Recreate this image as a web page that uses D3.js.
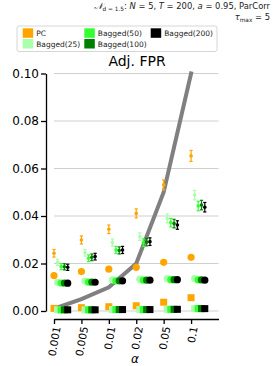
<!DOCTYPE html>
<html>
<head>
<meta charset="utf-8">
<script src="https://cdn.jsdelivr.net/npm/d3@7"></script>
<style>
  body { margin: 0; background: #fff; }
  svg { font-family: "DejaVu Sans", sans-serif; }
</style>
</head>
<body>
<svg id="chart" width="274" height="366"></svg>
<script>
// data
const alphas = ['0.001', '0.005', '0.01', '0.02', '0.05', '0.1'];
const alphaVals = [0.001, 0.005, 0.01, 0.02, 0.05, 0.1];
const methods = ['PC', 'Bagged(25)', 'Bagged(50)', 'Bagged(100)', 'Bagged(200)'];
const colors = ['#ffa500', '#aaffaa', '#33ff33', '#007f00', '#000000'];
const yTicks = [0, 0.02, 0.04, 0.06, 0.08, 0.10];

// upper group (mean with error bars)
const barPC   = [0.0243, 0.0299, 0.0344, 0.0411, 0.0531, 0.0653];
const barB25  = [0.0205, 0.0245, 0.0288, 0.0313, 0.0390, 0.0488];
const barB50  = [0.0187, 0.0222, 0.0257, 0.0288, 0.0372, 0.0442];
const barB100 = [0.0186, 0.0226, 0.0255, 0.0290, 0.0368, 0.0446];
const barB200 = [0.0184, 0.0229, 0.0257, 0.0292, 0.0362, 0.0437];
const errPC   = [0.0016, 0.0017, 0.0018, 0.0019, 0.0021, 0.0023];
const errBag  = [0.0013, 0.0014, 0.0015, 0.0016, 0.0018, 0.0020];

// middle group (circles)
const circPC   = [0.0149, 0.0166, 0.0176, 0.0184, 0.0205, 0.0226];
const circB25  = [0.0121, 0.0126, 0.0131, 0.0134, 0.0136, 0.0136];
const circB50  = [0.0118, 0.0122, 0.0127, 0.0130, 0.0132, 0.0131];
const circB100 = [0.0118, 0.0122, 0.0127, 0.0130, 0.0132, 0.0131];
const circB200 = [0.0117, 0.0121, 0.0127, 0.0130, 0.0132, 0.0130];

// lower group (squares)
const sqPC  = [0.0011, 0.0014, 0.0018, 0.0022, 0.0037, 0.0056];
const sqBag = [0.0005, 0.0005, 0.0006, 0.0006, 0.0007, 0.0010];

const barSeries = [barPC, barB25, barB50, barB100, barB200];
const errSeries = [errPC, errBag, errBag, errBag, errBag];
const circSeries = [circPC, circB25, circB50, circB100, circB200];
const sqSeries = [sqPC, sqBag, sqBag, sqBag, sqBag];
const offsets = [0, 0.13, 0.26, 0.38, 0.5];

const svg = d3.select('#chart');

const x = d3.scaleLinear().domain([0, 6]).range([54, 218.5]);
const y = d3.scaleLinear().domain([0, 0.1]).range([311, 73.5]);

// grid
svg.append('g')
    .selectAll('line')
    .data(yTicks)
    .enter()
    .append('line')
    .attr('x1', x(0)).attr('x2', x(6))
    .attr('y1', d => y(d)).attr('y2', d => y(d))
    .attr('stroke', '#cfcfcf')
    .attr('stroke-width', 1);

// y axis
const yAxis = svg.append('g')
    .attr('transform', 'translate(46,0)')
    .call(d3.axisLeft(y).tickValues(yTicks).tickFormat(d3.format('.2f')).tickSize(5).tickSizeOuter(0).tickPadding(2));
yAxis.select('.domain').attr('stroke-width', 1.3);
yAxis.selectAll('.tick line').attr('stroke-width', 1.3);
yAxis.selectAll('.tick text').attr('font-size', 12).attr('fill', '#000')
    .attr('font-family', '"DejaVu Sans", sans-serif');

// x axis
const xAxis = svg.append('g')
    .attr('transform', 'translate(0,319)')
    .call(d3.axisBottom(x).tickValues(d3.range(alphas.length)).tickFormat(i => alphas[i]).tickSize(5).tickSizeOuter(0));
xAxis.select('.domain').attr('stroke-width', 1.3);
xAxis.selectAll('.tick line').attr('stroke-width', 1.3);
xAxis.selectAll('.tick text')
    .attr('font-size', 10.5).attr('fill', '#000')
    .attr('font-family', '"DejaVu Sans", sans-serif')
    .attr('text-anchor', 'end')
    .attr('y', 0).attr('dy', '0.35em')
    .attr('transform', 'translate(2.5,7.5) rotate(-80)');

svg.append('text')
    .attr('x', 135).attr('y', 363)
    .attr('text-anchor', 'middle')
    .attr('font-size', 12)
    .attr('font-style', 'italic')
    .text('α');

// alpha reference line
svg.append('path')
    .datum(alphaVals)
    .attr('d', d3.line().x((d, i) => x(i)).y(d => y(d)))
    .attr('fill', 'none')
    .attr('stroke', '#808080')
    .attr('stroke-width', 4)
    .attr('stroke-linecap', 'square');

// squares
sqSeries.forEach((s, k) => {
    svg.append('g').selectAll('rect')
        .data(s)
        .enter()
        .append('rect')
        .attr('x', (d, i) => x(i + offsets[k]) - 3.5)
        .attr('y', d => y(d) - 3.5)
        .attr('width', 7).attr('height', 7)
        .attr('fill', colors[k]);
});

// circles
circSeries.forEach((s, k) => {
    svg.append('g').selectAll('circle')
        .data(s)
        .enter()
        .append('circle')
        .attr('cx', (d, i) => x(i + offsets[k]))
        .attr('cy', d => y(d))
        .attr('r', 3.6)
        .attr('fill', colors[k]);
});

// error bar markers
barSeries.forEach((s, k) => {
    const g = svg.append('g')
        .attr('stroke', colors[k])
        .attr('fill', colors[k])
        .attr('stroke-width', 1.2);
    const pts = g.selectAll('g')
        .data(s)
        .enter()
        .append('g')
        .attr('transform', (d, i) => `translate(${x(i + offsets[k])},0)`);
    pts.append('line')
        .attr('y1', (d, i) => y(d - errSeries[k][i]))
        .attr('y2', (d, i) => y(d + errSeries[k][i]));
    pts.append('line')
        .attr('x1', -1.6).attr('x2', 1.6)
        .attr('y1', (d, i) => y(d - errSeries[k][i]))
        .attr('y2', (d, i) => y(d - errSeries[k][i]));
    pts.append('line')
        .attr('x1', -1.6).attr('x2', 1.6)
        .attr('y1', (d, i) => y(d + errSeries[k][i]))
        .attr('y2', (d, i) => y(d + errSeries[k][i]));
    pts.append('circle')
        .attr('cy', d => y(d))
        .attr('r', 1.8)
        .attr('stroke', 'none');
});

// title
svg.append('text')
    .attr('x', 137).attr('y', 66)
    .attr('text-anchor', 'middle')
    .attr('font-size', 14)
    .text('Adj. FPR');

// suptitle
const sup = svg.append('text')
    .attr('x', 270).attr('y', 9)
    .attr('text-anchor', 'end')
    .attr('font-size', 8.4)
    .attr('fill', '#222');
sup.append('tspan').attr('font-family', '"DejaVu Serif", serif').attr('font-style', 'italic').attr('font-size', 9).text('𝒩');
sup.append('tspan').attr('font-size', 5.8).attr('dy', 2).text('d = 1.5');
sup.append('tspan').attr('dy', -2).text(': ');
sup.append('tspan').attr('font-style', 'italic').text('N');
sup.append('tspan').text(' = 5, ');
sup.append('tspan').attr('font-style', 'italic').text('T');
sup.append('tspan').text(' = 200, ');
sup.append('tspan').attr('font-style', 'italic').text('a');
sup.append('tspan').text(' = 0.95, ParCorr');

const sup2 = svg.append('text')
    .attr('x', 270).attr('y', 20)
    .attr('text-anchor', 'end')
    .attr('font-size', 8.4)
    .attr('fill', '#222');
sup2.append('tspan').attr('font-style', 'italic').text('τ');
sup2.append('tspan').attr('font-size', 5.8).attr('dy', 2).text('max');
sup2.append('tspan').attr('dy', -2).text(' = 5');

// legend
const legend = svg.append('g');
legend.append('rect')
    .attr('x', 17).attr('y', 26)
    .attr('width', 200).attr('height', 25.5)
    .attr('rx', 2)
    .attr('fill', '#fff')
    .attr('fill-opacity', 0.8)
    .attr('stroke', '#d6d6d6')
    .attr('stroke-width', 1);

const legCols = [22.7, 84.3, 150.7];
const legRows = [28.3, 39];
const legItems = legend.selectAll('g.item')
    .data(methods)
    .enter()
    .append('g')
    .attr('class', 'item')
    .attr('transform', (d, i) => {
        const col = [0, 0, 1, 1, 2][i];
        const row = [0, 1, 0, 1, 0][i];
        return `translate(${legCols[col]},${legRows[row]})`;
    });
legItems.append('rect')
    .attr('width', 10.5).attr('height', 9.5)
    .attr('fill', (d, i) => colors[i]);
legItems.append('text')
    .attr('x', 13.5).attr('y', 7.8)
    .attr('font-size', 7.5)
    .attr('fill', '#222')
    .text(d => d);
</script>
</body>
</html>
